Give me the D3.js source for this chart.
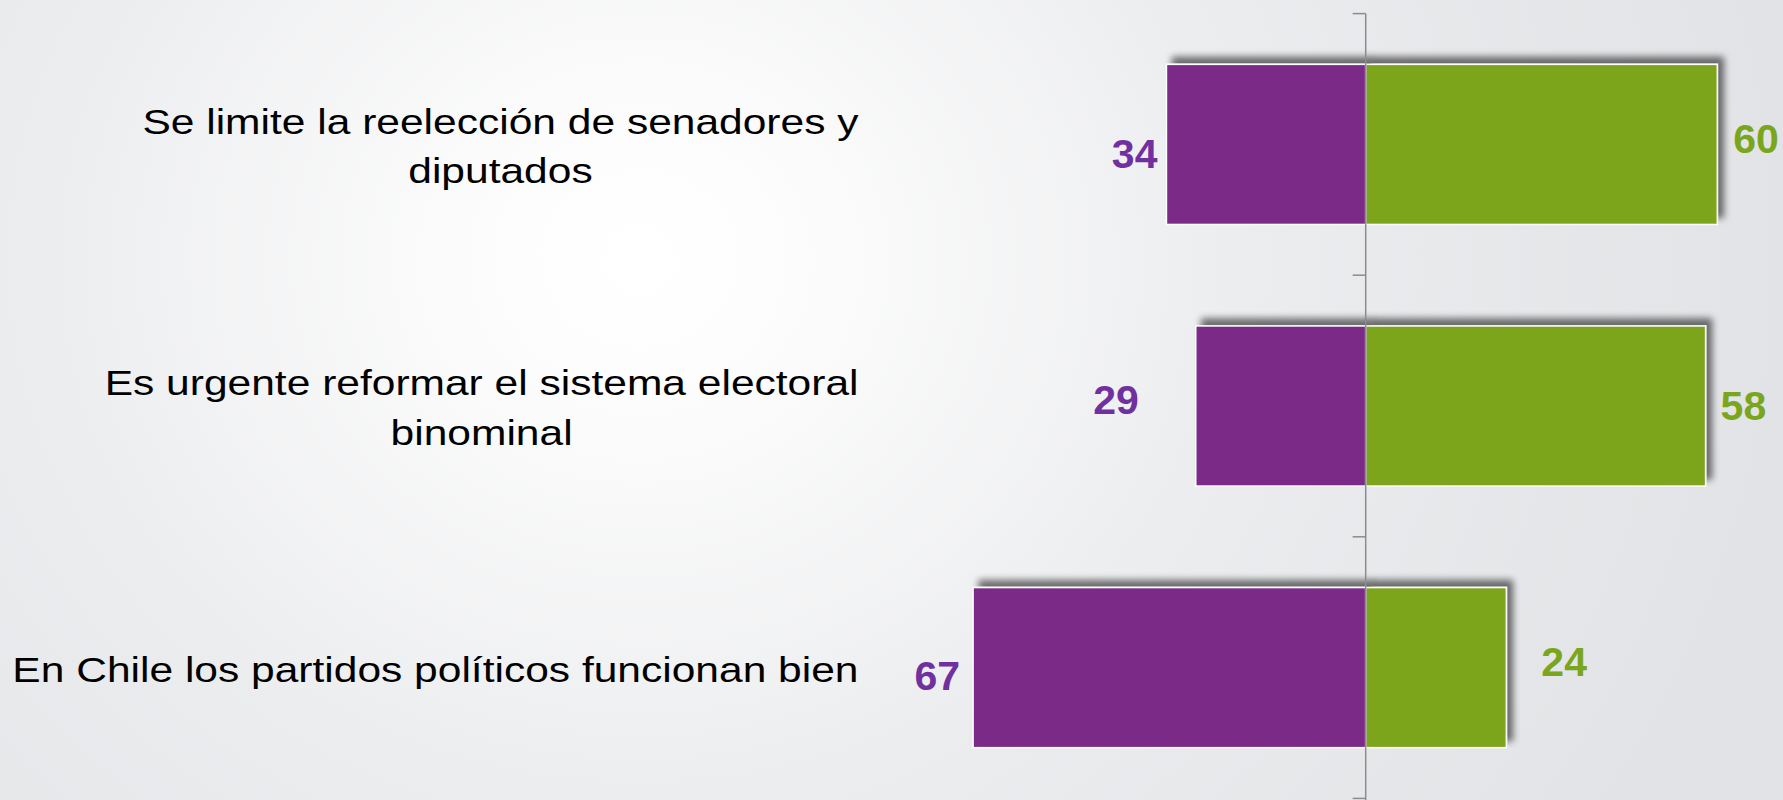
<!DOCTYPE html>
<html>
<head>
<meta charset="utf-8">
<script src="https://cdn.jsdelivr.net/npm/d3@7"></script>
<style>
  html, body { margin: 0; padding: 0; overflow: hidden; }
  svg { display: block; }
</style>
</head>
<body>
<svg id="chart" width="1783" height="800"></svg>
<script>
// ---- data ----
const categories = [
  "Se limite la reelección de senadores y|diputados",
  "Es urgente reformar el sistema electoral|binominal",
  "En Chile los partidos políticos funcionan bien"
];
const seriesNames = ["Desacuerdo", "Acuerdo"];
const disagreeValues = [34, 29, 67];
const agreeValues = [60, 58, 24];

// ---- layout (label nudges, px) ----
const leftLabelGap = [9, 57, 13];
const leftLabelDy = [9, -7, 7];
const rightLabelGap = [16, 15, 35];
const rightLabelDy = [-6, -1, -6.5];

const W = 1783, H = 800;
const svg = d3.select("#chart");

const defs = svg.append("defs");
const bg = defs.append("radialGradient").attr("id", "bg")
  .attr("gradientUnits", "userSpaceOnUse")
  .attr("cx", 640).attr("cy", 260).attr("r", 1150)
  .attr("gradientTransform", "translate(640,260) scale(1,0.9) translate(-640,-260)");
bg.append("stop").attr("offset", "0").attr("stop-color", "#ffffff");
bg.append("stop").attr("offset", "0.12").attr("stop-color", "#fdfdfd");
bg.append("stop").attr("offset", "0.55").attr("stop-color", "#ebecee");
bg.append("stop").attr("offset", "1").attr("stop-color", "#e2e3e6");

const sh = defs.append("filter").attr("id", "shadow")
  .attr("x", "-10%").attr("y", "-20%").attr("width", "130%").attr("height", "140%");
sh.append("feGaussianBlur").attr("in", "SourceAlpha").attr("stdDeviation", 3.5).attr("result", "b");
sh.append("feOffset").attr("in", "b").attr("dx", 6).attr("dy", -7).attr("result", "o");
sh.append("feComponentTransfer").attr("in", "o").attr("result", "o2")
  .append("feFuncA").attr("type", "linear").attr("slope", 0.55);
const m = sh.append("feMerge");
m.append("feMergeNode").attr("in", "o2");
m.append("feMergeNode").attr("in", "SourceGraphic");

svg.append("rect").attr("width", W).attr("height", H).attr("fill", "url(#bg)");

const y = d3.scaleBand().domain(categories)
  .range([13.6, 798.4]).paddingInner(0.388).paddingOuter(0.194);
const x = d3.scaleLinear().domain([-70, 70]).range([1365.7 - 70 * 5.86, 1365.7 + 70 * 5.86]);

const rows = categories.map((c, i) => ({ c, i, neg: disagreeValues[i], pos: agreeValues[i] }));

// bars
const g = svg.append("g");
g.selectAll(".neg").data(rows).join("rect")
  .attr("x", d => x(-d.neg)).attr("width", d => x(0) - x(-d.neg))
  .attr("y", d => y(d.c)).attr("height", y.bandwidth())
  .attr("fill", "#7b2c87").attr("stroke", "#ffffff").attr("stroke-width", 1.5)
  .attr("filter", "url(#shadow)");
g.selectAll(".pos").data(rows).join("rect")
  .attr("x", x(0)).attr("width", d => x(d.pos) - x(0))
  .attr("y", d => y(d.c)).attr("height", y.bandwidth())
  .attr("fill", "#7ba51d").attr("stroke", "#ffffff").attr("stroke-width", 1.5)
  .attr("filter", "url(#shadow)");

// axis
const step = y.step();
const tickYs = d3.range(categories.length + 1).map(k => y.range()[0] + k * step);
svg.append("line").attr("x1", x(0)).attr("x2", x(0)).attr("y1", tickYs[0]).attr("y2", H)
  .attr("stroke", "#8c8c8c").attr("stroke-width", 1.5);
svg.selectAll(".tick").data(tickYs).join("line")
  .attr("x1", x(0) - 13).attr("x2", x(0)).attr("y1", d => d).attr("y2", d => d)
  .attr("stroke", "#8c8c8c").attr("stroke-width", 1.5);

// value labels
svg.selectAll(".lv").data(rows).join("text")
  .attr("x", d => x(-d.neg) - leftLabelGap[d.i])
  .attr("y", d => y(d.c) + y.bandwidth() / 2 + leftLabelDy[d.i] + 15)
  .attr("text-anchor", "end")
  .attr("font-family", "Liberation Sans, Arial, sans-serif")
  .attr("font-weight", "bold").attr("font-size", 41)
  .attr("fill", "#7030a0").text(d => d.neg);
svg.selectAll(".rv").data(rows).join("text")
  .attr("x", d => x(d.pos) + rightLabelGap[d.i])
  .attr("y", d => y(d.c) + y.bandwidth() / 2 + rightLabelDy[d.i] + 15)
  .attr("text-anchor", "start")
  .attr("font-family", "Liberation Sans, Arial, sans-serif")
  .attr("font-weight", "bold").attr("font-size", 41)
  .attr("fill", "#7aa61e").text(d => d.pos);

// category labels (slightly wide-stretched text as in the original)
const labelRight = 858.5, fs = 35, lh = 49.5, stretch = 1.215;
rows.forEach(d => {
  const lines = d.c.split("|");
  const t = svg.append("text")
    .attr("font-family", "Liberation Sans, Arial, sans-serif")
    .attr("font-size", fs).attr("fill", "#000000").attr("text-anchor", "middle")
    .attr("transform", `translate(${labelRight},0) scale(${stretch},1)`);
  const cy = y(d.c) + y.bandwidth() / 2;
  const firstBase = cy - (lines.length - 1) * lh / 2 + 14;
  const spans = lines.map((ln, k) => t.append("tspan").attr("y", firstBase + k * lh).text(ln));
  const maxW = d3.max(spans, s => s.node().getComputedTextLength());
  spans.forEach(s => s.attr("x", -maxW / 2));
});
</script>
</body>
</html>
